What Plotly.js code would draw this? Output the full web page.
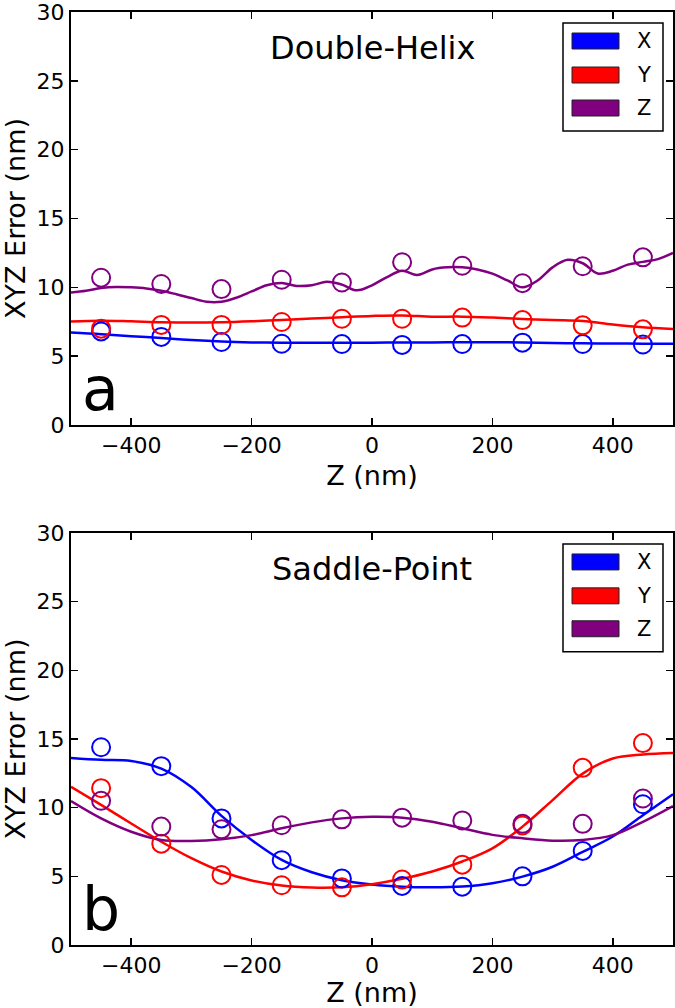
<!DOCTYPE html>
<html>
<head>
<meta charset="utf-8">
<script src="https://cdn.plot.ly/plotly-3.0.1.min.js"></script>
<style>html,body{margin:0;padding:0;background:#fff;}#chart{width:675px;height:1008px;}</style>
</head>
<body>
<div id="chart"></div>
<script>
// ---- data ----
const zPoints = [-450, -350, -250, -150, -50, 50, 150, 250, 350, 450];

// Panel a: Double-Helix (measured points)
const dhX = [6.8, 6.4, 6.03, 5.9, 5.88, 5.82, 5.88, 5.98, 5.88, 5.85];
const dhY = [7.0, 7.27, 7.27, 7.48, 7.72, 7.72, 7.8, 7.62, 7.24, 6.95];
const dhZ = [10.7, 10.24, 9.87, 10.55, 10.35, 11.82, 11.57, 10.3, 11.53, 12.18];

// Panel b: Saddle-Point (measured points)
const spX = [14.4, 13.02, 9.22, 6.18, 4.85, 4.3, 4.25, 5.0, 6.85, 10.25];
const spY = [11.42, 7.38, 5.1, 4.35, 4.2, 4.77, 5.85, 8.7, 12.9, 14.7];
const spZ = [10.5, 8.62, 8.42, 8.72, 9.15, 9.27, 9.07, 8.82, 8.82, 10.67];

// Fitted curves, sampled every 50 nm
const zCurve = [-500, -450, -400, -350, -300, -250, -200, -150, -100, -50, 0,
                50, 100, 150, 200, 250, 300, 350, 400, 450, 500];
const dhXCurve = [6.72, 6.6, 6.45, 6.32, 6.17, 6.06, 6.0, 5.98, 5.98, 5.98, 5.98,
                  6.0, 6.0, 6.01, 6.01, 6.0, 5.95, 5.93, 5.92, 5.91, 5.9];
const dhYCurve = [7.51, 7.58, 7.53, 7.46, 7.45, 7.46, 7.53, 7.63, 7.73, 7.83, 7.92,
                  7.96, 7.87, 7.87, 7.8, 7.7, 7.62, 7.55, 7.3, 7.1, 6.98];
const spXCurve = [13.62, 13.48, 13.4, 12.85, 11.5, 9.4, 7.65, 6.2, 5.3, 4.72, 4.4,
                  4.24, 4.2, 4.26, 4.5, 4.98, 5.7, 6.78, 7.9, 9.45, 10.98];
const spYCurve = [11.52, 10.2, 8.85, 7.52, 6.32, 5.35, 4.7, 4.33, 4.19, 4.21, 4.43,
                  4.82, 5.35, 6.08, 7.04, 8.62, 10.55, 12.48, 13.58, 13.87, 13.98];
const spZCurve = [10.48, 9.22, 8.25, 7.65, 7.58, 7.7, 8.0, 8.5, 8.93, 9.22, 9.33,
                  9.27, 8.98, 8.5, 8.02, 7.77, 7.6, 7.65, 8.0, 8.97, 10.12];

// Double-Helix Z curve, sampled every 25 nm
const zCurveFine = [-500, -475, -450, -425, -400, -375, -350, -325, -300, -275, -250,
                    -225, -200, -175, -150, -125, -100, -75, -50, -25, 0,
                    25, 50, 75, 100, 125, 150, 175, 200, 225, 250,
                    275, 300, 325, 350, 375, 400, 425, 450, 475, 500];
const dhZCurve = [9.63, 9.75, 9.95, 10.03, 10.0, 9.92, 9.75, 9.5, 9.22, 8.95, 8.95,
                  9.25, 9.7, 10.15, 10.32, 10.1, 10.15, 10.4, 10.2, 9.78, 10.15,
                  10.75, 11.2, 10.9, 11.3, 11.45, 11.45, 11.3, 11.0, 10.5, 10.0,
                  10.5, 11.45, 12.0, 11.75, 11.0, 11.2, 11.65, 11.85, 12.05, 12.5];

const seriesNames = ['X', 'Y', 'Z'];
const seriesColors = ['#0000ff', '#ff0000', '#800080'];
const panelTitles = ['Double-Helix', 'Saddle-Point'];
const panelLetters = ['a', 'b'];
const xTickVals = [-400, -200, 0, 200, 400];
const yTickVals = [0, 5, 10, 15, 20, 25, 30];

// ---- build ----
const FONT = 'DejaVu Sans, Liberation Sans, sans-serif';
const panels = [
  {xa: 'x', ya: 'y', pts: [dhX, dhY, dhZ],
   curves: [[zCurve, dhXCurve], [zCurve, dhYCurve], [zCurveFine, dhZCurve]]},
  {xa: 'x2', ya: 'y2', pts: [spX, spY, spZ],
   curves: [[zCurve, spXCurve], [zCurve, spYCurve], [zCurve, spZCurve]]}
];

const traces = [];
panels.forEach((p) => {
  for (let i = 0; i < 3; i++) {
    traces.push({
      type: 'scatter', mode: 'lines', x: p.curves[i][0], y: p.curves[i][1],
      xaxis: p.xa, yaxis: p.ya, name: seriesNames[i] + ' fit', showlegend: false,
      line: {color: seriesColors[i], width: 2.5, shape: 'spline', smoothing: 1},
      hoverinfo: 'skip'
    });
  }
  for (let i = 0; i < 3; i++) {
    traces.push({
      type: 'scatter', mode: 'markers', x: zPoints, y: p.pts[i],
      xaxis: p.xa, yaxis: p.ya, name: seriesNames[i], showlegend: false,
      marker: {symbol: 'circle-open', size: 18, color: seriesColors[i], line: {width: 2, color: seriesColors[i]}}
    });
  }
});

// plot-area pixel geometry for converting legend layout into domain fractions
const PW = 602, PH = 413;
const fx = (px) => px / PW;          // px from plot left
const fy = (py) => 1 - py / PH;      // py from plot top

function axisCommon() {
  return {
    showline: true, linecolor: '#000', linewidth: 2, mirror: 'ticks',
    ticks: 'inside', ticklen: 7, tickwidth: 1.5, tickcolor: '#000',
    showgrid: false, zeroline: false, ticklabeloverflow: 'allow',
    tickfont: {family: FONT, size: 22, color: '#000'}
  };
}
function xAxis(anchor) {
  return Object.assign(axisCommon(), {
    anchor: anchor, range: [-500, 500], tickvals: xTickVals, domain: [0, 1],
    title: {text: 'Z (nm)', font: {family: FONT, size: 27, color: '#000'}, standoff: 9}
  });
}
function yAxis(anchor, domain) {
  return Object.assign(axisCommon(), {
    anchor: anchor, range: [0, 30], tickvals: yTickVals, domain: domain,
    title: {text: 'XYZ Error (nm)', font: {family: FONT, size: 27, color: '#000'}, standoff: 10}
  });
}

const shapes = [];
const annotations = [];
panels.forEach((p, k) => {
  const xr = p.xa + ' domain', yr = p.ya + ' domain';
  // legend frame
  shapes.push({type: 'rect', xref: xr, yref: yr, x0: fx(492), x1: fx(592), y0: fy(119), y1: fy(11),
               line: {color: '#000', width: 1.5}, fillcolor: '#fff', layer: 'above'});
  const rows = [29, 63, 96];
  for (let i = 0; i < 3; i++) {
    shapes.push({type: 'rect', xref: xr, yref: yr, x0: fx(501), x1: fx(548),
                 y0: fy(rows[i] + 8), y1: fy(rows[i] - 8),
                 line: {color: '#222', width: 1}, fillcolor: seriesColors[i], layer: 'above'});
    annotations.push({xref: xr, yref: yr, x: fx(573), y: fy(rows[i]), text: seriesNames[i],
                      showarrow: false, xanchor: 'center', yanchor: 'middle',
                      font: {family: FONT, size: 21, color: '#000'}});
  }
  annotations.push({xref: xr, yref: yr, x: 0.5, y: fy(36), text: panelTitles[k], showarrow: false,
                    xanchor: 'center', yanchor: 'middle', font: {family: FONT, size: 32, color: '#000'}});
  annotations.push({xref: xr, yref: yr, x: fx(9), y: fy(377), text: panelLetters[k], showarrow: false,
                    xanchor: 'left', yanchor: 'middle', font: {family: FONT, size: 60, color: '#000'}});
});

const layout = {
  width: 675, height: 1008,
  margin: {l: 71, r: 2, t: 12, b: 63},
  paper_bgcolor: '#fff', plot_bgcolor: '#fff',
  font: {family: FONT, color: '#000'},
  showlegend: false,
  xaxis: xAxis('y'),
  yaxis: yAxis('x', [1 - 413 / 933, 1]),
  xaxis2: xAxis('y2'),
  yaxis2: yAxis('x2', [0, 412 / 933]),
  shapes: shapes,
  annotations: annotations
};

Plotly.newPlot('chart', traces, layout, {staticPlot: true, displayModeBar: false});
</script>
</body>
</html>
